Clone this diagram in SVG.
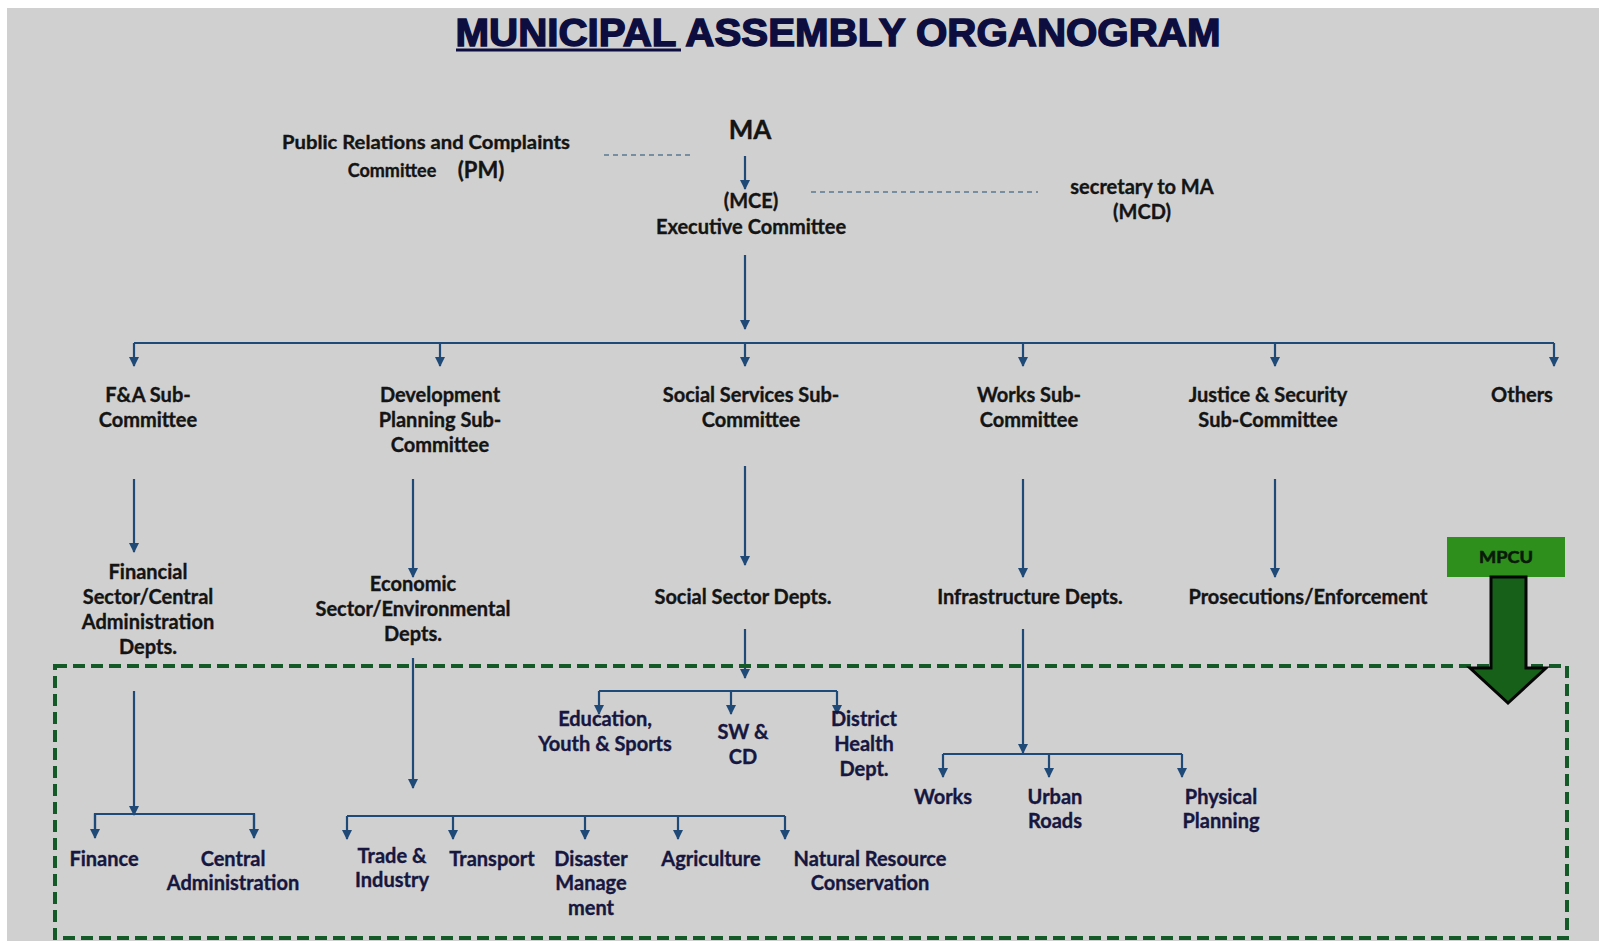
<svg xmlns="http://www.w3.org/2000/svg" width="1599" height="941" viewBox="0 0 1599 941">
<style>
.t{font-family:Lato,"Open Sans","Liberation Sans",sans-serif;font-weight:bold;font-size:20px;fill:#141414;text-anchor:middle;stroke:#141414;stroke-width:0.35px}
.b{fill:#16163f;stroke:#16163f}
.c{stroke:#1f4a78;stroke-width:2.2;fill:none}
.ca{stroke:#1f4a78;stroke-width:2.2;fill:none;marker-end:url(#ah)}
.d{stroke:#5a7890;stroke-width:1.6;stroke-dasharray:5 4;fill:none}
</style>
<defs>
<marker id="ah" viewBox="0 0 10 10" refX="9" refY="5" markerWidth="10" markerHeight="10" markerUnits="userSpaceOnUse" orient="auto">
<path d="M0,0 L10,5 L0,10 Z" fill="#1f4a78"/>
</marker>
</defs>
<rect x="0" y="0" width="1599" height="941" fill="#ffffff"/>
<rect x="7" y="8" width="1592" height="933" fill="#d0d0d0"/>

<g id="title">
<text x="838" y="46" font-family="'Liberation Sans',Arial,sans-serif" font-weight="bold" font-size="38" fill="#0d0d3f" stroke="#0d0d3f" stroke-width="1.4" text-anchor="middle" textLength="765" lengthAdjust="spacingAndGlyphs">MUNICIPAL ASSEMBLY ORGANOGRAM</text>
<line x1="456" y1="50" x2="681" y2="50" stroke="#0d0d3f" stroke-width="3"/>
</g>

<g id="connectors">
<line class="d" x1="604" y1="155" x2="691" y2="155"/>
<line class="d" x1="811" y1="192" x2="1038" y2="192"/>
<line class="ca" x1="745" y1="156" x2="745" y2="189"/>
<line class="ca" x1="745" y1="255" x2="745" y2="329"/>
<line class="c" x1="134" y1="343" x2="1554" y2="343"/>
<line class="ca" x1="134" y1="343" x2="134" y2="366"/>
<line class="ca" x1="440" y1="343" x2="440" y2="366"/>
<line class="ca" x1="745" y1="343" x2="745" y2="366"/>
<line class="ca" x1="1023" y1="343" x2="1023" y2="366"/>
<line class="ca" x1="1275" y1="343" x2="1275" y2="366"/>
<line class="ca" x1="1554" y1="343" x2="1554" y2="366"/>
<line class="ca" x1="134" y1="479" x2="134" y2="552"/>
<line class="ca" x1="413" y1="479" x2="413" y2="577"/>
<line class="ca" x1="745" y1="466" x2="745" y2="565"/>
<line class="ca" x1="1023" y1="479" x2="1023" y2="577"/>
<line class="ca" x1="1275" y1="479" x2="1275" y2="577"/>
<!-- F&A lower -->
<line class="ca" x1="134" y1="691" x2="134" y2="815"/>
<path class="c" d="M95,830 V814 H254 V830"/>
<line class="ca" x1="95" y1="814" x2="95" y2="838"/>
<line class="ca" x1="254" y1="814" x2="254" y2="838"/>
<!-- Dev lower -->
<line class="ca" x1="413" y1="658" x2="413" y2="788"/>
<line class="c" x1="347" y1="816" x2="785" y2="816"/>
<line class="ca" x1="347" y1="816" x2="347" y2="839"/>
<line class="ca" x1="453" y1="816" x2="453" y2="839"/>
<line class="ca" x1="585" y1="816" x2="585" y2="839"/>
<line class="ca" x1="678" y1="816" x2="678" y2="839"/>
<line class="ca" x1="785" y1="816" x2="785" y2="839"/>
<!-- Social lower -->
<line class="ca" x1="745" y1="629" x2="745" y2="678"/>
<line class="c" x1="599" y1="691" x2="837" y2="691"/>
<line class="ca" x1="599" y1="691" x2="599" y2="714"/>
<line class="ca" x1="731" y1="691" x2="731" y2="714"/>
<line class="ca" x1="837" y1="691" x2="837" y2="714"/>
<!-- Works lower -->
<line class="ca" x1="1023" y1="629" x2="1023" y2="753"/>
<line class="c" x1="943" y1="754" x2="1182" y2="754"/>
<line class="ca" x1="943" y1="754" x2="943" y2="777"/>
<line class="ca" x1="1049" y1="754" x2="1049" y2="777"/>
<line class="ca" x1="1182" y1="754" x2="1182" y2="777"/>
</g>

<g id="boundary">
<rect x="55" y="666" width="1512" height="272" fill="none" stroke="#145a28" stroke-width="4" stroke-dasharray="12 6"/>
</g>

<g id="ma"><text class="t" x="750" y="139" style="font-size:26px">MA</text></g>
<g id="pr">
<text class="t" x="426" y="149" textLength="288" lengthAdjust="spacingAndGlyphs" style="font-size:18px">Public Relations and Complaints</text>
<text class="t" x="392" y="177" style="font-size:18px">Committee</text>
<text class="t" x="481" y="178" style="font-size:22px">(PM)</text>
</g>
<g id="mce">
<text class="t" x="751" y="208">(MCE)</text>
<text class="t" x="751" y="234">Executive Committee</text>
</g>
<g id="sec">
<text class="t" x="1142" y="194">secretary to MA</text>
<text class="t" x="1142" y="219">(MCD)</text>
</g>

<g id="fa"><text class="t" x="148" y="402">F&amp;A Sub-</text><text class="t" x="148" y="427">Committee</text></g>
<g id="dev"><text class="t" x="440" y="402">Development</text><text class="t" x="440" y="427">Planning Sub-</text><text class="t" x="440" y="452">Committee</text></g>
<g id="soc"><text class="t" x="751" y="402">Social Services Sub-</text><text class="t" x="751" y="427">Committee</text></g>
<g id="works"><text class="t" x="1029" y="402">Works Sub-</text><text class="t" x="1029" y="427">Committee</text></g>
<g id="justice"><text class="t" x="1268" y="402">Justice &amp; Security</text><text class="t" x="1268" y="427">Sub-Committee</text></g>
<g id="others"><text class="t" x="1522" y="402">Others</text></g>

<g id="fin-dept"><text class="t" x="148" y="579">Financial</text><text class="t" x="148" y="604">Sector/Central</text><text class="t" x="148" y="629">Administration</text><text class="t" x="148" y="654">Depts.</text></g>
<g id="eco-dept"><text class="t" x="413" y="591">Economic</text><text class="t" x="413" y="616">Sector/Environmental</text><text class="t" x="413" y="641">Depts.</text></g>
<g id="soc-dept"><text class="t" x="743" y="604">Social Sector Depts.</text></g>
<g id="inf-dept"><text class="t" x="1030" y="604">Infrastructure Depts.</text></g>
<g id="pros"><text class="t" x="1308" y="604">Prosecutions/Enforcement</text></g>

<g id="mpcu">
<rect x="1447" y="537" width="118" height="40" fill="#2e8f1c"/>
<text class="t" x="1506" y="563" style="font-size:17px;fill:#0a1a0a;stroke:#0a1a0a;stroke-width:0.6px" textLength="54" lengthAdjust="spacingAndGlyphs">MPCU</text>
<path d="M1491,577 H1526 V668 H1546 L1508,703 L1470,668 H1491 Z" fill="#17601a" stroke="#050505" stroke-width="3"/>
</g>

<g id="finance"><text class="t b" x="104" y="866">Finance</text></g>
<g id="central"><text class="t b" x="233" y="866">Central</text><text class="t b" x="233" y="890">Administration</text></g>
<g id="trade"><text class="t b" x="392" y="863">Trade &amp;</text><text class="t b" x="392" y="887">Industry</text></g>
<g id="transport"><text class="t b" x="492" y="866">Transport</text></g>
<g id="disaster"><text class="t b" x="591" y="866">Disaster</text><text class="t b" x="591" y="890">Manage</text><text class="t b" x="591" y="915">ment</text></g>
<g id="agri"><text class="t b" x="711" y="866">Agriculture</text></g>
<g id="natural"><text class="t b" x="870" y="866">Natural Resource</text><text class="t b" x="870" y="890">Conservation</text></g>
<g id="edu"><text class="t b" x="605" y="726">Education,</text><text class="t b" x="605" y="751">Youth &amp; Sports</text></g>
<g id="sw"><text class="t b" x="743" y="739">SW &amp;</text><text class="t b" x="743" y="764">CD</text></g>
<g id="health"><text class="t b" x="864" y="726">District</text><text class="t b" x="864" y="751">Health</text><text class="t b" x="864" y="776">Dept.</text></g>
<g id="w-works"><text class="t b" x="943" y="804">Works</text></g>
<g id="urban"><text class="t b" x="1055" y="804">Urban</text><text class="t b" x="1055" y="828">Roads</text></g>
<g id="physical"><text class="t b" x="1221" y="804">Physical</text><text class="t b" x="1221" y="828">Planning</text></g>
</svg>
